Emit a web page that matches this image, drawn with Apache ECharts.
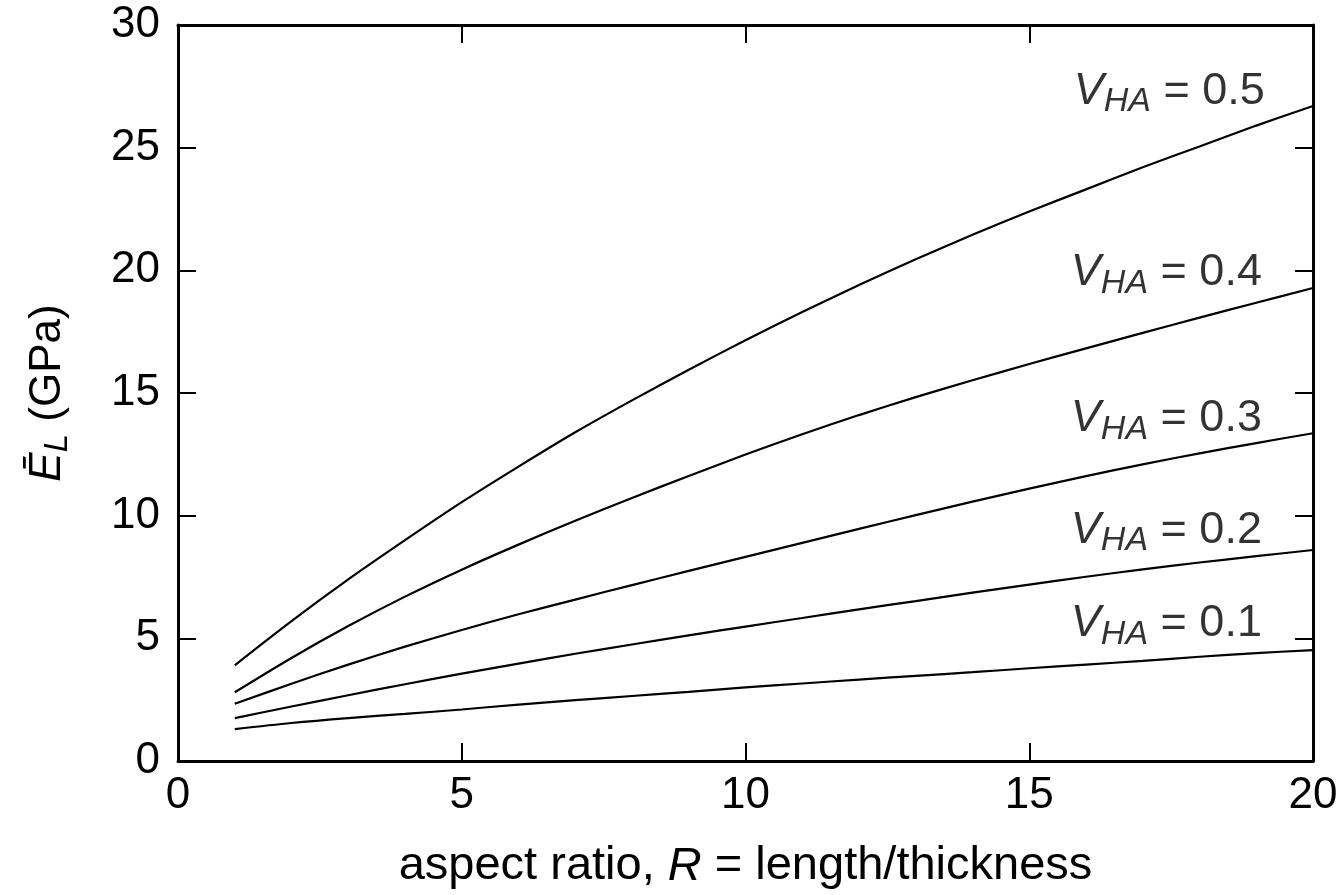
<!DOCTYPE html>
<html>
<head>
<meta charset="utf-8">
<script src="https://cdn.jsdelivr.net/npm/echarts@6/dist/echarts.min.js"></script>
<style>
  html, body { margin: 0; padding: 0; background: #fff; }
  #chart { width: 1342px; height: 895px; }
</style>
</head>
<body>
<div id="chart"></div>
<script>
// aspect ratio R
const ratio = [1, 2, 3, 4, 5, 6, 7, 8, 9, 10, 11, 12, 13, 14, 15, 16, 17, 18, 19, 20]
// E_L (GPa) per volume fraction
const vha05 = [3.9, 5.7, 7.4, 9.0, 10.55, 12.0, 13.4, 14.7, 15.95, 17.15, 18.3, 19.4, 20.45, 21.45, 22.4, 23.3, 24.2, 25.05, 25.9, 26.7]
const vha04 = [2.8, 4.2, 5.5, 6.7, 7.8, 8.82, 9.79, 10.72, 11.62, 12.49, 13.32, 14.1, 14.83, 15.52, 16.18, 16.82, 17.45, 18.07, 18.68, 19.28]
const vha03 = [2.33, 3.15, 3.93, 4.66, 5.34, 5.98, 6.58, 7.17, 7.75, 8.32, 8.89, 9.46, 10.02, 10.57, 11.1, 11.61, 12.09, 12.54, 12.96, 13.36]
const vha02 = [1.75, 2.22, 2.68, 3.13, 3.56, 3.97, 4.37, 4.75, 5.12, 5.48, 5.83, 6.18, 6.52, 6.86, 7.19, 7.51, 7.81, 8.09, 8.35, 8.6]
const vha01 = [1.3, 1.55, 1.75, 1.92, 2.1, 2.3, 2.48, 2.65, 2.82, 3.0, 3.16, 3.32, 3.47, 3.62, 3.78, 3.93, 4.08, 4.25, 4.4, 4.52]
// curve labels: text and anchor (R, E) of their right edge
const labelNames = ['0.5', '0.4', '0.3', '0.2', '0.1']
const labelX = [19.15, 19.1, 19.1, 19.1, 19.1]
const labelY = [27.2, 19.8, 13.85, 9.3, 5.5]

const FONT = '"Liberation Sans", Arial, Helvetica, sans-serif'
const curves = [vha05, vha04, vha03, vha02, vha01]

const chart = echarts.init(document.getElementById('chart'))

const axisCommon = {
    type: 'value',
    axisLine: { show: true, onZero: false, lineStyle: { color: '#000', width: 3 } },
    axisTick: { show: true, inside: true, length: 18, lineStyle: { color: '#000', width: 2 } },
    splitLine: { show: false }
}

const lineSeries = curves.map(vals => ({
    type: 'line',
    data: ratio.map((r, i) => [r, vals[i]]),
    showSymbol: false,
    smooth: 0.3,
    lineStyle: { color: '#000', width: 2.2 },
    silent: true
}))

const labelSeries = {
    type: 'scatter',
    symbolSize: 0,
    silent: true,
    data: labelNames.map((n, i) => ({ value: [labelX[i], labelY[i]], name: n })),
    label: {
        show: true,
        position: 'left',
        distance: 0,
        color: '#000',
        formatter: p => '{v|V}{s|HA}{n| = ' + p.name + '}',
        rich: {
            v: { fontFamily: FONT, fontSize: 45, fontStyle: 'italic', color: '#000', lineHeight: 50, verticalAlign: 'top' },
            s: { fontFamily: FONT, fontSize: 34, fontStyle: 'italic', color: '#000', lineHeight: 34, verticalAlign: 'bottom', padding: [28, 0, 0, 0] },
            n: { fontFamily: FONT, fontSize: 45, color: '#000', lineHeight: 50, verticalAlign: 'top' }
        }
    }
}

chart.setOption({
    animation: false,
    backgroundColor: '#fff',
    grid: { left: 178, right: 29, top: 25, bottom: 134, containLabel: false },
    xAxis: [
        Object.assign({}, axisCommon, {
            position: 'bottom',
            min: 0, max: 20, interval: 5,
            axisLabel: { color: '#000', fontFamily: FONT, fontSize: 44, margin: 13 },
            name: '{n|aspect ratio, }{i|R}{n| = length/thickness}',
            nameLocation: 'middle',
            nameGap: 82,
            nameTextStyle: {
                rich: {
                    n: { fontFamily: FONT, fontSize: 47, color: '#000' },
                    i: { fontFamily: FONT, fontSize: 47, color: '#000', fontStyle: 'italic' }
                }
            }
        }),
        Object.assign({}, axisCommon, {
            position: 'top',
            min: 0, max: 20, interval: 5,
            axisLabel: { show: false }
        })
    ],
    yAxis: [
        Object.assign({}, axisCommon, {
            position: 'left',
            min: 0, max: 30, interval: 5,
            axisLabel: { color: '#000', fontFamily: FONT, fontSize: 44, margin: 18 },
            name: '{e|Ē}{l|L}{n| (GPa)}',
            nameLocation: 'middle',
            nameRotate: 90,
            nameGap: 104,
            nameTextStyle: {
                rich: {
                    e: { fontFamily: FONT, fontSize: 44, fontStyle: 'italic', color: '#000', lineHeight: 48, verticalAlign: 'top' },
                    l: { fontFamily: FONT, fontSize: 33, fontStyle: 'italic', color: '#000', lineHeight: 33, verticalAlign: 'bottom', padding: [26, 0, 0, 0] },
                    n: { fontFamily: FONT, fontSize: 44, color: '#000', lineHeight: 48, verticalAlign: 'top' }
                }
            }
        }),
        Object.assign({}, axisCommon, {
            position: 'right',
            min: 0, max: 30, interval: 5,
            axisLabel: { show: false }
        })
    ],
    series: lineSeries.concat([labelSeries])
})
</script>
</body>
</html>
